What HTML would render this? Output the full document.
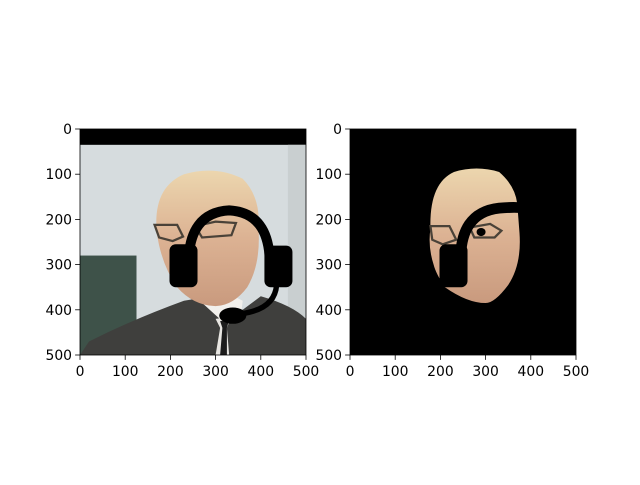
<!DOCTYPE html>
<html><head><meta charset="utf-8"><style>
body{margin:0;background:#fff;}
svg text{font-family:"DejaVu Sans","Liberation Sans",sans-serif;font-size:13.9px;fill:#000;}
</style></head><body>
<svg width="640" height="480" viewBox="0 0 640 480">
<defs>
<clipPath id="c1"><rect x="0" y="0" width="500" height="500"/></clipPath>
<linearGradient id="skin" x1="0" y1="0" x2="0" y2="1"><stop offset="0" stop-color="#ecd6ae"/><stop offset="0.5" stop-color="#dcb293"/><stop offset="1" stop-color="#c99a7e"/></linearGradient>
</defs>
<g id="ax1" transform="translate(80,129) scale(0.452)">
 <g clip-path="url(#c1)">
  <rect x="0" y="0" width="500" height="500" fill="#d6dcde"/>
  <rect x="0" y="0" width="500" height="35" fill="#000"/>
  <rect x="460" y="35" width="40" height="465" fill="#c9cfd0"/>
  <rect x="0" y="280" width="125" height="220" fill="#3e5249"/>
  <path d="M0 500 L20 470 Q120 420 230 380 L290 370 L320 400 L360 400 L400 370 Q470 390 500 420 L500 500 Z" fill="#3f3f3d"/>
  <path d="M265 380 L320 430 L355 420 L360 380 L340 370 L300 380 Z" fill="#f2f0ec"/>
  <path d="M300 500 L310 440 L300 420 L335 415 L325 440 L330 500 Z" fill="#e8e6e2"/>
  <path d="M310 500 L315 440 L310 425 L330 422 L325 440 L325 500 Z" fill="#1c1c1c"/>
  <path d="M170 230 Q160 130 230 100 Q300 80 360 110 Q400 150 395 220 Q400 300 370 350 Q340 390 300 392 Q250 390 215 350 Q180 300 170 230 Z" fill="url(#skin)"/>
  <path d="M165 212 L215 212 L228 238 L205 248 L175 240 Z M255 215 L300 205 L345 208 L335 235 L270 240 Z" fill="none" stroke="#4a4238" stroke-width="5"/>
  <path d="M240 300 Q240 185 330 180 Q420 185 420 300" fill="none" stroke="#000" stroke-width="22"/>
  <rect x="198" y="255" width="62" height="95" rx="14" fill="#000"/>
  <rect x="408" y="258" width="62" height="92" rx="14" fill="#000"/>
  <path d="M435 345 Q430 405 340 410" fill="none" stroke="#000" stroke-width="12"/>
  <ellipse cx="338" cy="413" rx="30" ry="18" fill="#000"/>
 </g>
</g>
<g id="ax2" transform="translate(350,129) scale(0.452)">
 <g clip-path="url(#c1)">
  <rect x="0" y="0" width="500" height="500" fill="#000"/>
  <path d="M178 220 Q175 120 230 95 Q280 80 330 95 Q365 125 370 165 L375 230 Q380 300 350 345 Q320 385 300 385 Q260 385 210 350 Q190 320 185 300 Q172 260 178 220 Z" fill="url(#skin)"/>
  <path d="M178 215 L220 215 L235 245 L205 255 L182 245 Z M265 218 L310 210 L335 225 L320 240 L275 240 Z" fill="none" stroke="#4a4238" stroke-width="5"/>
  <path d="M245 300 Q240 185 330 175 Q370 172 380 175" fill="none" stroke="#000" stroke-width="24"/>
  <rect x="198" y="255" width="62" height="95" rx="14" fill="#000"/>
  <ellipse cx="290" cy="228" rx="10" ry="9" fill="#000"/>
 </g>
</g>
<script>
const ticks=[0,100,200,300,400,500];
const axes=[{x:80,y:129},{x:350,y:129}];
const W=226,H=226;
const ns="http://www.w3.org/2000/svg";
const svg=document.querySelector('svg');
function sx(o,v){return o.x+v/500*W;}
function sy(o,v){return o.y+v/500*H;}
axes.forEach((o,i)=>{
 const r=document.createElementNS(ns,'rect');
 r.setAttribute('x',o.x);r.setAttribute('y',o.y);r.setAttribute('width',W);r.setAttribute('height',H);
 r.setAttribute('fill','none');r.setAttribute('stroke','#000');r.setAttribute('stroke-width','0.8');
 
 
 svg.appendChild(r);
 ticks.forEach(t=>{
  const lx=document.createElementNS(ns,'line');
  lx.setAttribute('x1',sx(o,t));lx.setAttribute('x2',sx(o,t));lx.setAttribute('y1',o.y+H);lx.setAttribute('y2',o.y+H+4.9);
  lx.setAttribute('stroke','#000');lx.setAttribute('stroke-width','0.8');
  
  
  svg.appendChild(lx);
  const tx=document.createElementNS(ns,'text');
  tx.setAttribute('x',sx(o,t));tx.setAttribute('y',o.y+H+21);tx.setAttribute('text-anchor','middle');
  tx.textContent=t;
  
  
  svg.appendChild(tx);
  const ly=document.createElementNS(ns,'line');
  ly.setAttribute('x1',o.x-4.9);ly.setAttribute('x2',o.x);ly.setAttribute('y1',sy(o,t));ly.setAttribute('y2',sy(o,t));
  ly.setAttribute('stroke','#000');ly.setAttribute('stroke-width','0.8');
  
  
  svg.appendChild(ly);
  const ty=document.createElementNS(ns,'text');
  ty.setAttribute('x',o.x-8);ty.setAttribute('y',sy(o,t)+5);ty.setAttribute('text-anchor','end');
  ty.textContent=t;
  
  
  svg.appendChild(ty);
 });
});
</script>
</svg>
</body></html>
